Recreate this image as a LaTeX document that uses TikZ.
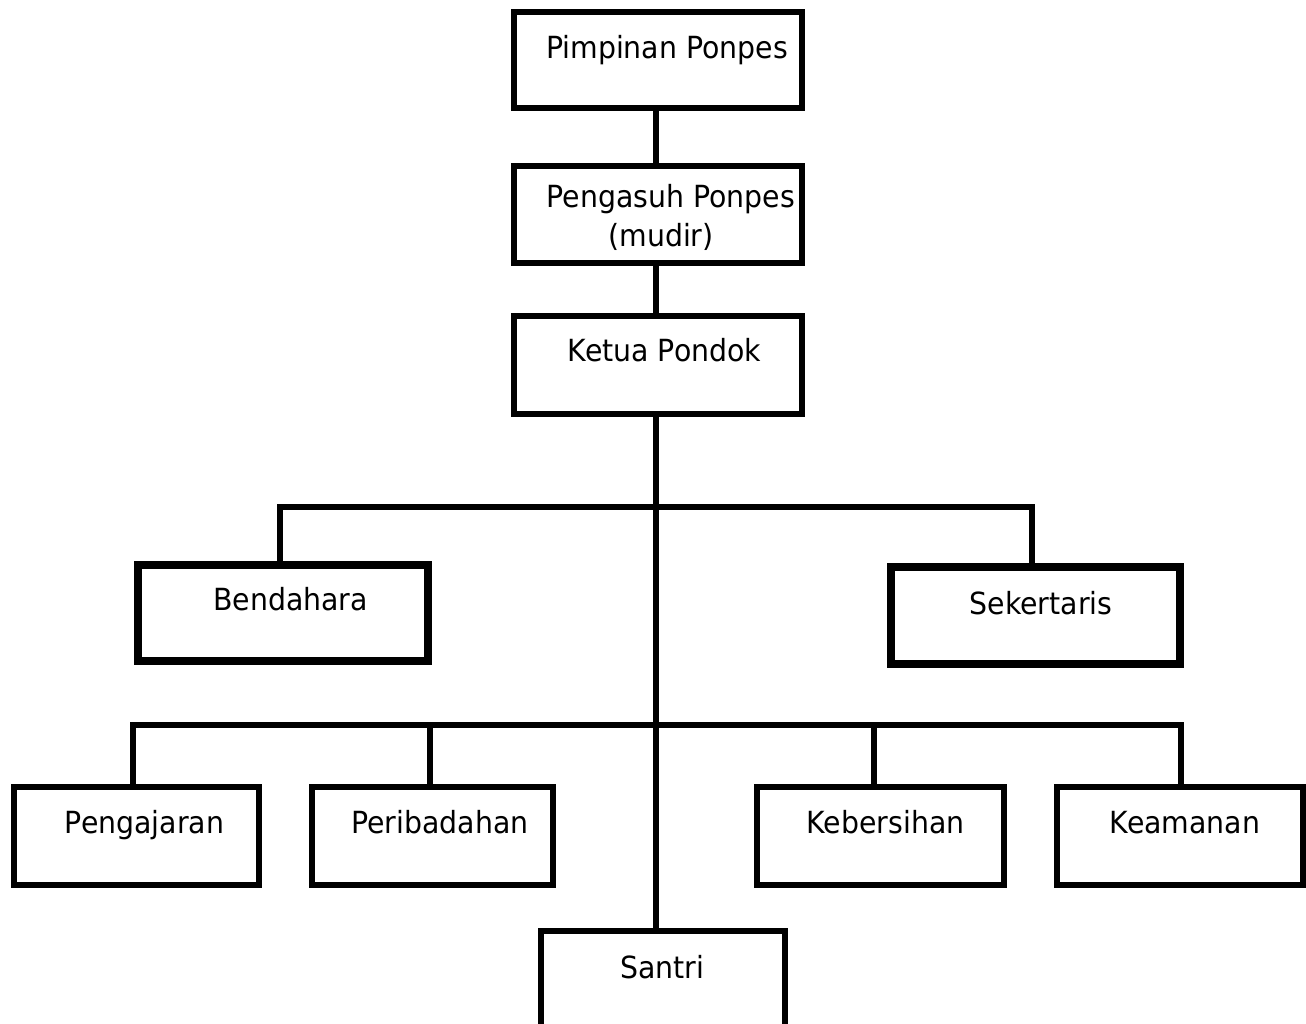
\documentclass[tikz,border=0pt]{standalone}
\usepackage{fontspec}
\setmainfont{DejaVu Sans}[FakeStretch=0.93]
\begin{document}
\begin{tikzpicture}[x=1pt,y=-1pt,
  box/.style={draw=black, line width=6pt, rectangle, inner sep=0pt, fill=white},
  thickbox/.style={box, line width=8pt},
  txt/.style={font=\fontsize{30.5}{39}\selectfont, anchor=base, inner sep=0pt, align=center},
  conn/.style={draw=black, line width=5.5pt, line join=miter}]
\clip (0,0) rectangle (1306,1024);
\fill[white] (0,0) rectangle (1306,1024);
% spine
\coordinate (spine) at (656,0);
\coordinate (b1) at (656,507);
\coordinate (b2) at (656,725);
% boxes
\node[box, minimum width=288pt, minimum height=96pt] (pimpinan) at (657.5,60.5) {};
\node[box, minimum width=288pt, minimum height=97pt] (pengasuh) at (657.5,215) {};
\node[box, minimum width=288pt, minimum height=98pt] (ketua) at (657.5,364.5) {};
\node[thickbox, minimum width=290pt, minimum height=96pt] (bendahara) at (282.5,612.5) {};
\node[thickbox, minimum width=289pt, minimum height=97pt] (sekertaris) at (1035,615) {};
\node[box, minimum width=245pt, minimum height=98pt] (pengajaran) at (136,835.5) {};
\node[box, minimum width=241pt, minimum height=98pt] (peribadahan) at (432,835.5) {};
\node[box, minimum width=247pt, minimum height=98pt] (kebersihan) at (880,835.5) {};
\node[box, minimum width=246pt, minimum height=98pt] (keamanan) at (1179.5,835.5) {};
\node[box, minimum width=244pt, minimum height=140pt] (santri) at (662.5,1000.5) {};
% connectors
\draw[conn] (pimpinan.south -| spine) -- (pengasuh.north -| spine);
\draw[conn] (pengasuh.south -| spine) -- (ketua.north -| spine);
\draw[conn] (ketua.south -| spine) -- (santri.north -| spine);
\draw[conn] ([xshift=-2.5pt]bendahara.north) |- (b1) -| ([xshift=-3pt]sekertaris.north);
\draw[conn] ([xshift=-3pt]pengajaran.north) |- (b2) -| ([xshift=1.5pt]keamanan.north);
\draw[conn] (b2 -| peribadahan.north) ++(-2pt,0) -- ([xshift=-2pt]peribadahan.north);
\draw[conn] (b2 -| kebersihan.north) ++(-6pt,0) -- ([xshift=-6pt]kebersihan.north);
% texts
\node[txt] (tpimpinan) at (667,59) {Pimpinan Ponpes};
\node[txt] (tpengasuh) at (671,208) {Pengasuh Ponpes};
\node[txt] (tmudir) at (661,247) {(mudir)};
\node[txt] (tketua) at (664.5,361) {Ketua Pondok};
\node[txt] (tbendahara) at (290.5,610) {Bendahara};
\node[txt] (tsekertaris) at (1041,614) {Sekertaris};
\node[txt] (tpengajaran) at (144.5,833) {Pengajaran};
\node[txt] (tperibadahan) at (440,833) {Peribadahan};
\node[txt] (tkebersihan) at (885.5,833) {Kebersihan};
\node[txt] (tkeamanan) at (1185,833) {Keamanan};
\node[txt] (tsantri) at (662.5,978) {Santri};
\end{tikzpicture}
\end{document}
